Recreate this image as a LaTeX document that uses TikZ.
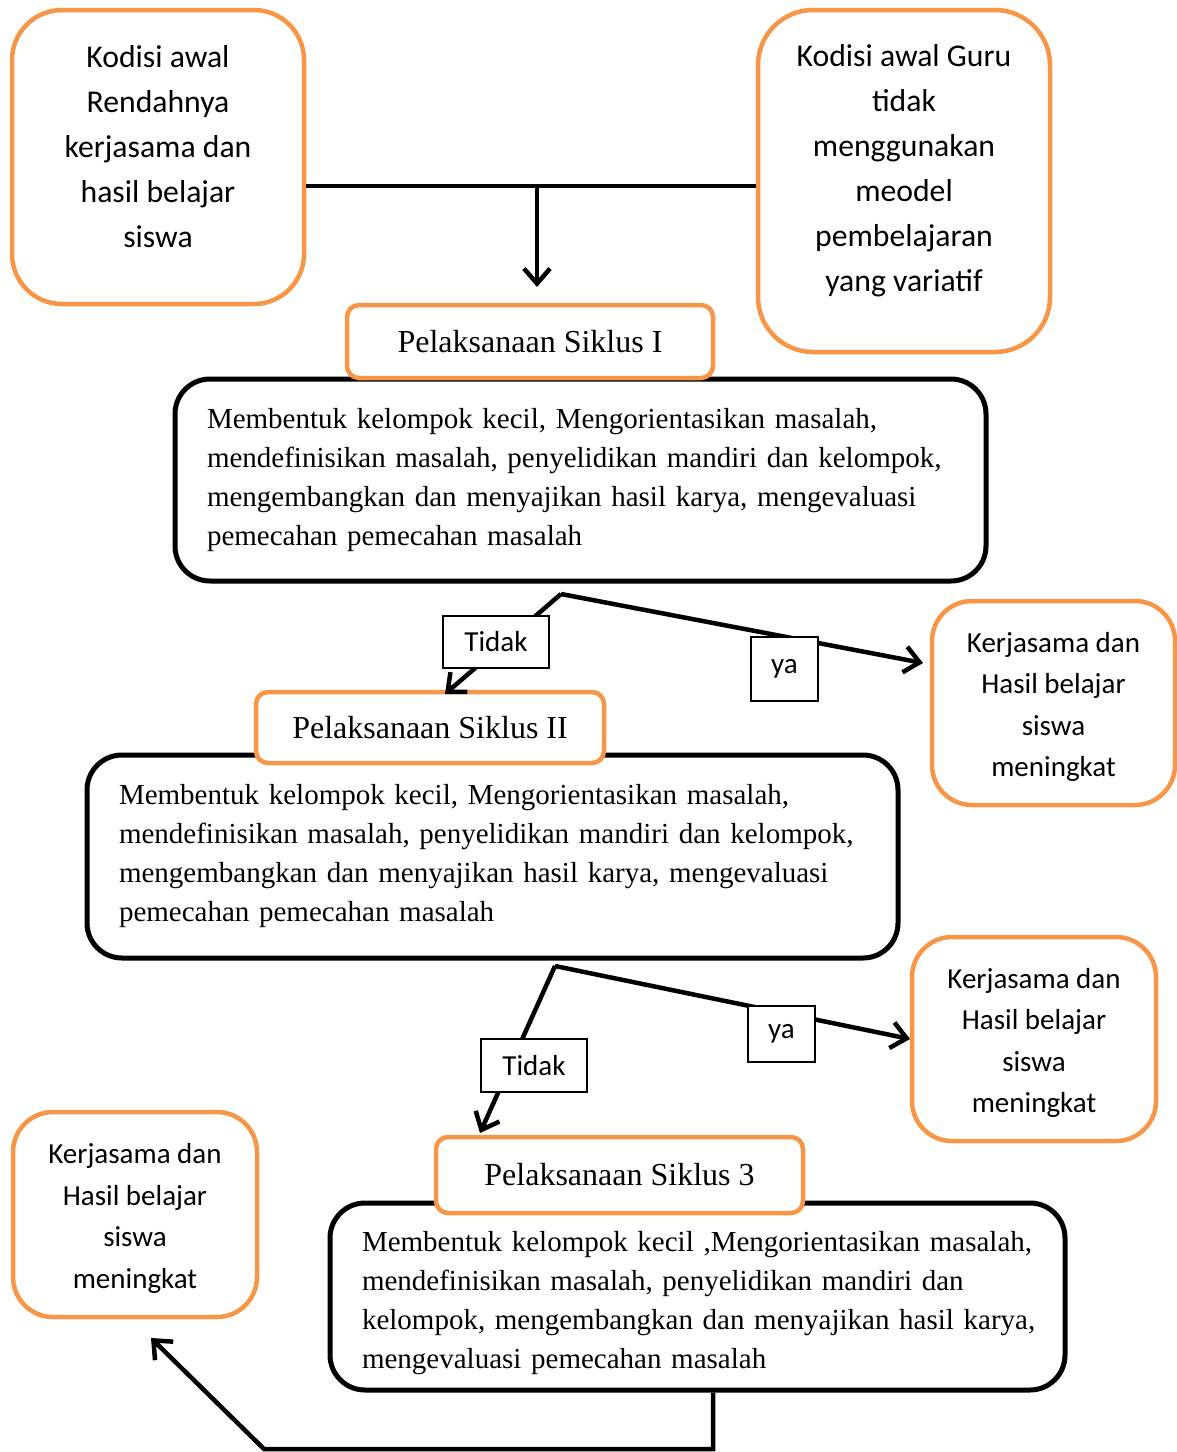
\documentclass[tikz,border=0pt]{standalone}
\usepackage{fontspec}
\setmainfont{Liberation Serif}
\newfontfamily\calib{Carlito}
\usetikzlibrary{arrows.meta}
\definecolor{accentorange}{HTML}{F79646}

\begin{document}
\begin{tikzpicture}[x=1pt,y=-1pt,
  obox/.style={draw=accentorange, line width=4.5pt, fill=white, rounded corners=#1, inner sep=0pt},
  obox/.default=40pt,
  otext/.style={font=\calib\fontsize{31.7}{45}\selectfont, align=center, inner sep=0pt},
  rtext/.style={font=\calib\fontsize{29}{41.5}\selectfont, align=center, inner sep=0pt},
  stagebox/.style={draw=accentorange, line width=4.5pt, fill=white, rounded corners=12pt,
    font=\fontsize{32}{38}\selectfont},
  stepsbox/.style={draw=black, line width=5pt, fill=white, rounded corners=35pt,
    align=left, inner xsep=0pt, font=\fontsize{29}{39}\selectfont},
  tag/.style={draw=black, line width=1.2pt, fill=white, inner sep=0pt,
    font=\calib\fontsize{29}{35}\selectfont},
  link/.style={line width=4.5pt},
  flow/.style={line width=4.5pt, -{Straight Barb[length=15pt,width=26pt]}}
]
\useasboundingbox (0,0) rectangle (1177,1452);

% starting conditions
\node[obox=50pt, minimum width=292pt, minimum height=294pt] (A) at (158,157) {};
\node[otext] (Atxt) at (158,147) {Kodisi awal\\Rendahnya\\kerjasama dan\\hasil belajar\\siswa};
\node[obox=55pt, minimum width=292pt, minimum height=342pt] (B) at (904,181) {};
\node[otext] (Btxt) at (904,171) {Kodisi awal Guru\\tidak\\menggunakan\\meodel\\pembelajaran\\yang variatif};

% cycle activities
\node[stepsbox, minimum width=811pt, minimum height=202pt, text width=747pt] (K1) at (580.5,480)
  {\mbox{Membentuk kelompok kecil, Mengorientasikan masalah,}\\
   \mbox{mendefinisikan masalah, penyelidikan mandiri dan kelompok,}\\
   \mbox{mengembangkan dan menyajikan hasil karya, mengevaluasi}\\
   \mbox{pemecahan pemecahan masalah}};
\node[stepsbox, minimum width=811pt, minimum height=203pt, text width=747pt] (K2) at (492.5,856.5)
  {\mbox{Membentuk kelompok kecil, Mengorientasikan masalah,}\\
   \mbox{mendefinisikan masalah, penyelidikan mandiri dan kelompok,}\\
   \mbox{mengembangkan dan menyajikan hasil karya, mengevaluasi}\\
   \mbox{pemecahan pemecahan masalah}};
\node[stepsbox, minimum width=735pt, minimum height=187pt, text width=671pt] (K3) at (697.5,1296.5)
  {\rule{0pt}{34pt}\mbox{Membentuk kelompok kecil ,Mengorientasikan masalah,}\\
   \mbox{mendefinisikan masalah, penyelidikan mandiri dan}\\
   \mbox{kelompok, mengembangkan dan menyajikan hasil karya,}\\
   \mbox{mengevaluasi pemecahan masalah}};

% cycle titles
\node[stagebox, minimum width=366pt, minimum height=73pt] (S1) at (530,341.5) {Pelaksanaan Siklus I};
\node[stagebox, minimum width=348pt, minimum height=71pt] (S2) at (430,727.5) {Pelaksanaan Siklus II};
\node[stagebox, minimum width=367pt, minimum height=76pt] (S3) at (619.5,1175) {Pelaksanaan Siklus 3};

% outcomes
\node[obox=40pt, minimum width=243pt, minimum height=204pt] (R1) at (1053.5,703) {};
\node[rtext] (R1txt) at (1053.5,707) {Kerjasama dan\\Hasil belajar\\siswa\\meningkat};
\node[obox=40pt, minimum width=244pt, minimum height=204pt] (R2) at (1034,1039) {};
\node[rtext] (R2txt) at (1034,1043) {Kerjasama dan\\Hasil belajar\\siswa\\meningkat};
\node[obox=40pt, minimum width=244pt, minimum height=205pt] (L) at (135,1214.5) {};
\node[rtext] (Ltxt) at (135,1218.5) {Kerjasama dan\\Hasil belajar\\siswa\\meningkat};

% junction points and free arrow ends
\coordinate (j0) at (537,186);
\coordinate (e0) at (537,287);
\coordinate (b1) at (561,594);
\coordinate (t1) at (445,694);
\coordinate (y1) at (923,663);
\coordinate (b2) at (555,966);
\coordinate (t2) at (480,1133);
\coordinate (y2) at (910,1039);
\coordinate (c1) at (713,1449);
\coordinate (c2) at (264,1449);
\coordinate (e3) at (151,1338);

% connectors
\draw[link] (A.east |- j0) -- (B.west |- j0);
\draw[flow] (j0) -- (e0);

\draw[flow] (b1) -- (t1);
\draw[flow] (b1) -- (y1);
\node[tag, minimum width=106pt, minimum height=52pt] (n1) at (496,642) {Tidak};
\node[tag, minimum width=67pt, minimum height=64pt] (p1) at (784.5,669) {\raisebox{-3pt}{ya}};

\draw[flow] (b2) -- (t2);
\draw[flow] (b2) -- (y2);
\node[tag, minimum width=106pt, minimum height=53pt] (n2) at (534,1065.5) {Tidak};
\node[tag, minimum width=67pt, minimum height=56pt] (p2) at (781.5,1034) {\raisebox{-3pt}{ya}};

\draw[flow, line join=miter] (K3.south -| c1) -- (c1) -- (c2) -- (e3);
\end{tikzpicture}
\end{document}
